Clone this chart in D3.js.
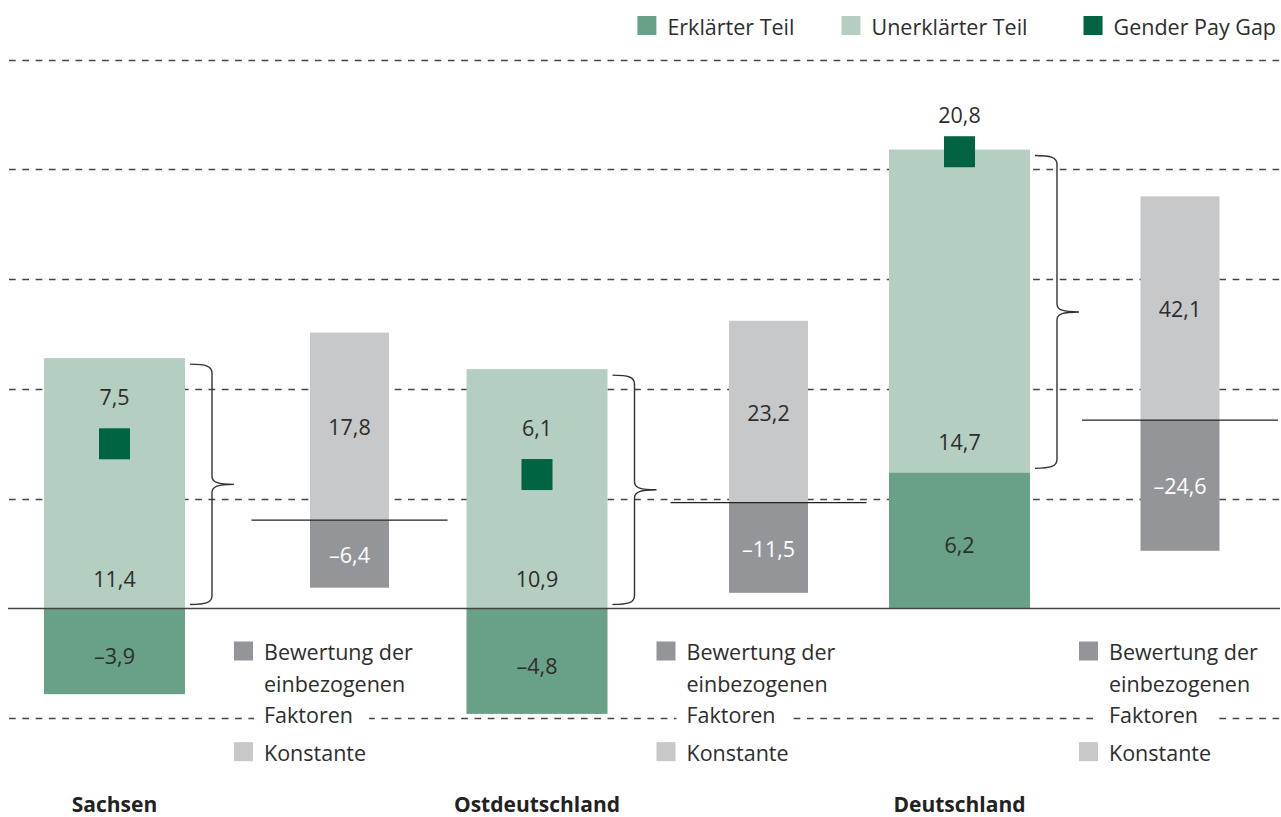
<!DOCTYPE html>
<html>
<head>
<meta charset="utf-8">
<script src="https://cdn.jsdelivr.net/npm/d3@7"></script>
<style>
    body { margin: 0; background: #fff; }
    text { font-family: "Open Sans", Lato, sans-serif; fill: #2d2d2d; }
</style>
</head>
<body>
<script>
// data
var groups = ['Sachsen', 'Ostdeutschland', 'Deutschland']
var explained = [-3.9, -4.8, 6.2]
var unexplained = [11.4, 10.9, 14.7]
var payGap = [7.5, 6.1, 20.8]
var bewertung = [-6.4, -11.5, -24.6]
var konstante = [17.8, 23.2, 42.1]
var yTicks = [-5, 5, 10, 15, 20, 25]
var legendLabels = ['Erklärter Teil', 'Unerklärter Teil', 'Gender Pay Gap']
var bewertungLabel = ['Bewertung der', 'einbezogenen', 'Faktoren']
var konstanteLabel = ['Konstante']

var colors = {
    explained: '#69a088',
    unexplained: '#b4cfc1',
    gap: '#006341',
    bewertung: '#949598',
    konstante: '#c7c8ca'
}

var width = 1281
var height = 817
var fontSize = 21.5

// each decomposition column has its own zero line and shrink factor
var decompBase = [4.02, 4.82, 8.58]
var decompFactor = [0.48, 0.357, 0.242]
var decompOffset = [305.5, 302, 291]

var fmt = function(v){
    var s = Math.abs(v).toFixed(1).replace('.', ',')
    return v < 0 ? '\u2013' + s : s
}

var svg = d3.select('body').append('svg')
    .attr('width', width)
    .attr('height', height)

// scales
var y = d3.scaleLinear()
    .domain([-5, 25])
    .range([718.3, 59.5])

var x = d3.scaleBand()
    .domain(groups)
    .range([44, 44 + 422.5*3])
    .paddingInner(0)
var barW = 141

var decompScale = function(i){
    var unit = (y(0) - y(1)) * decompFactor[i]
    return d3.scaleLinear()
        .domain([0, 1])
        .range([y(decompBase[i]), y(decompBase[i]) - unit])
}

// dashed grid
svg.append('g')
    .selectAll('line')
    .data(yTicks)
    .join('line')
    .attr('x1', 9)
    .attr('x2', 1280)
    .attr('y1', function(d){ return Math.round(y(d)) + 0.5 })
    .attr('y2', function(d){ return Math.round(y(d)) + 0.5 })
    .attr('stroke', '#444')
    .attr('stroke-width', 1.3)
    .attr('stroke-dasharray', '6.7,6.6')

var g = svg.selectAll('g.group')
    .data(groups)
    .join('g')
    .attr('class', 'group')

// explained part
g.append('rect')
    .attr('x', function(d){ return x(d) })
    .attr('width', barW)
    .attr('y', function(d, i){ return y(Math.max(0, explained[i])) })
    .attr('height', function(d, i){ return Math.abs(y(explained[i]) - y(0)) })
    .attr('fill', colors.explained)

g.append('text')
    .attr('x', function(d){ return x(d) + barW/2 })
    .attr('y', function(d, i){ return (y(explained[i]) + y(0))/2 + 12.5 })
    .attr('text-anchor', 'middle')
    .style('font-size', fontSize + 'px')
    .text(function(d, i){ return fmt(explained[i]) })

// unexplained part, stacked on a positive explained part
var uStart = function(i){ return Math.max(0, explained[i]) }
g.append('rect')
    .attr('x', function(d){ return x(d) })
    .attr('width', barW)
    .attr('y', function(d, i){ return y(uStart(i) + unexplained[i]) })
    .attr('height', function(d, i){ return y(uStart(i)) - y(uStart(i) + unexplained[i]) })
    .attr('fill', colors.unexplained)

g.append('text')
    .attr('x', function(d){ return x(d) + barW/2 })
    .attr('y', function(d, i){ return y(uStart(i)) - 22 })
    .attr('text-anchor', 'middle')
    .style('font-size', fontSize + 'px')
    .text(function(d, i){ return fmt(unexplained[i]) })

// gender pay gap marker
var sq = 31
g.append('rect')
    .attr('x', function(d){ return x(d) + barW/2 - sq/2 })
    .attr('y', function(d, i){ return y(payGap[i]) - sq/2 })
    .attr('width', sq)
    .attr('height', sq)
    .attr('fill', colors.gap)

g.append('text')
    .attr('x', function(d){ return x(d) + barW/2 })
    .attr('y', function(d, i){
        var top = y(payGap[i]) - sq/2
        var barTop = y(uStart(i) + unexplained[i])
        return top < barTop ? top - 13 : top - 23
    })
    .attr('text-anchor', 'middle')
    .style('font-size', fontSize + 'px')
    .text(function(d, i){ return fmt(payGap[i]) })

// curly bracket next to unexplained part
g.append('path')
    .attr('fill', 'none')
    .attr('stroke', '#333')
    .attr('stroke-width', 1.4)
    .attr('d', function(d, i){
        var x0 = x(d) + barW + 5
        var x1 = x0 + 22
        var x2 = x1 + 22
        var top = y(uStart(i) + unexplained[i]) + 6
        var bot = y(uStart(i)) - 4
        var mid = (top + bot)/2
        return 'M' + x0 + ',' + top +
            'C' + (x0 + 16) + ',' + top + ' ' + x1 + ',' + (top + 2) + ' ' + x1 + ',' + (top + 9) +
            'L' + x1 + ',' + (mid - 8) +
            'C' + x1 + ',' + (mid - 2) + ' ' + (x1 + 6) + ',' + mid + ' ' + x2 + ',' + mid +
            'C' + (x1 + 6) + ',' + mid + ' ' + x1 + ',' + (mid + 2) + ' ' + x1 + ',' + (mid + 8) +
            'L' + x1 + ',' + (bot - 9) +
            'C' + x1 + ',' + (bot - 2) + ' ' + (x0 + 16) + ',' + bot + ' ' + x0 + ',' + bot
    })

// decomposition of the unexplained part
var dW = 79
g.each(function(d, i){
    var el = d3.select(this)
    var yd = decompScale(i)
    var cx = x(d) + decompOffset[i]
    el.append('rect')
        .attr('x', cx - dW/2)
        .attr('width', dW)
        .attr('y', yd(konstante[i]))
        .attr('height', yd(0) - yd(konstante[i]))
        .attr('fill', colors.konstante)
    el.append('rect')
        .attr('x', cx - dW/2)
        .attr('width', dW)
        .attr('y', yd(0))
        .attr('height', yd(bewertung[i]) - yd(0))
        .attr('fill', colors.bewertung)
    el.append('line')
        .attr('x1', cx - 98)
        .attr('x2', cx + 98)
        .attr('y1', yd(0))
        .attr('y2', yd(0))
        .attr('stroke', '#222')
        .attr('stroke-width', 1.2)
    el.append('text')
        .attr('x', cx)
        .attr('y', (yd(konstante[i]) + yd(0))/2 + 9)
        .attr('text-anchor', 'middle')
        .style('font-size', fontSize + 'px')
        .text(fmt(konstante[i]))
    el.append('text')
        .attr('x', cx)
        .attr('y', (yd(bewertung[i]) + yd(0))/2 + 9)
        .attr('text-anchor', 'middle')
        .style('font-size', fontSize + 'px')
        .style('fill', '#fff')
        .text(fmt(bewertung[i]))

    // small legend under each decomposition
    var lx = x(d) + 190
    var items = [
        {lines: bewertungLabel, color: colors.bewertung, base: 660},
        {lines: konstanteLabel, color: colors.konstante, base: 760.7}
    ]
    items.forEach(function(it){
        el.append('rect')
            .attr('x', lx)
            .attr('y', it.base - 18.5)
            .attr('width', 19)
            .attr('height', 19)
            .attr('fill', it.color)
        it.lines.forEach(function(line, k){
            var t = el.append('text')
                .attr('x', lx + 30)
                .attr('y', it.base + k*31.5)
                .style('font-size', fontSize + 'px')
                .text(line)
            if(k === it.lines.length - 1 && it.lines.length > 1){
                // white pad so the dashed grid stops around the last line
                var bb = t.node().getBBox()
                el.insert('rect', function(){ return t.node() })
                    .attr('x', bb.x - 10)
                    .attr('y', bb.y)
                    .attr('width', bb.width + 26)
                    .attr('height', bb.height)
                    .attr('fill', '#fff')
            }
        })
    })

    // group name
    el.append('text')
        .attr('x', x(d) + barW/2)
        .attr('y', 812)
        .attr('text-anchor', 'middle')
        .style('font-size', '21px')
        .style('font-weight', 700)
        .style('fill', '#222')
        .text(d)
})

// zero line
svg.append('line')
    .attr('x1', 8)
    .attr('x2', 1280)
    .attr('y1', y(0))
    .attr('y2', y(0))
    .attr('stroke', '#444')
    .attr('stroke-width', 1.6)

// top legend, right aligned
var legendColors = [colors.explained, colors.unexplained, colors.gap]
var legendGaps = [47, 56]
var legend = svg.append('g')
var items = legend.selectAll('g')
    .data(legendLabels)
    .join('g')
items.append('rect')
    .attr('width', 19)
    .attr('height', 19)
    .attr('y', 16)
    .attr('fill', function(d, i){ return legendColors[i] })
items.append('text')
    .attr('x', 30)
    .attr('y', 34.5)
    .style('font-size', fontSize + 'px')
    .text(function(d){ return d })

var right = 1276
var nodes = items.nodes()
for(var k = nodes.length - 1; k >= 0; k--){
    var w = d3.select(nodes[k]).select('text').node().getComputedTextLength() + 30
    right = right - w
    d3.select(nodes[k]).attr('transform', 'translate(' + right + ',0)')
    if(k > 0) right = right - legendGaps[k - 1]
}
</script>
</body>
</html>
